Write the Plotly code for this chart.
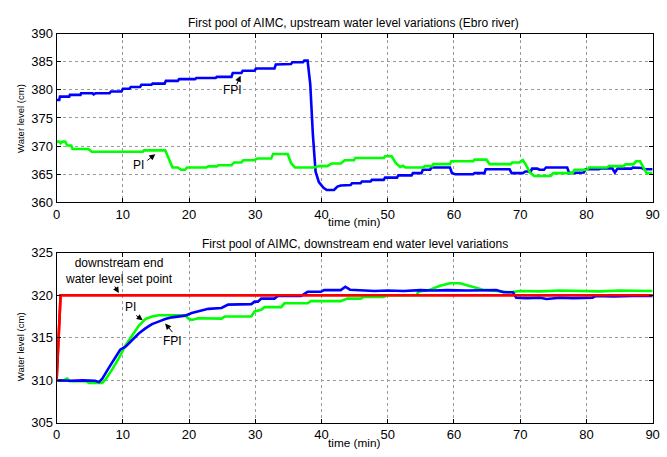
import plotly.graph_objects as go

# ---------------- data ----------------
# Upstream water level, FPI controller (blue)
t_fpi_up = [0, 0.4, 0.5, 1.9, 2.0, 3.6, 3.7, 5.4, 5.6, 5.9, 8.0, 8.2, 9.8, 10.0, 11.0, 11.2, 12.6, 12.8,
            14.3, 14.5, 16.3, 16.5, 18.3, 18.5, 20.9, 21.1, 24.0, 24.2, 26.4, 26.6, 27.9, 28.1, 29.9, 30.1,
            32.9, 33.1, 35.4, 35.6, 37.2, 37.4, 37.9, 38.3, 38.7, 39.1, 39.6, 40.3, 40.8, 41.9, 42.4, 42.9,
            44.4, 44.6, 45.9, 46.1, 47.4, 47.6, 49.4, 49.6, 51.4, 51.6, 53.6, 53.8, 55.1, 55.3, 56.4, 56.6,
            59.4, 59.7, 60.2, 62.9, 63.1, 64.6, 64.8, 68.4, 68.7, 70.4, 70.8, 71.6, 71.8, 72.6, 72.9, 73.6,
            73.9, 77.1, 77.4, 79.6, 79.9, 81.9, 82.2, 83.9, 84.3, 84.7, 86.8, 87.0, 88.4, 88.7, 90.0]
h_fpi_up = [378.2, 378.2, 378.8, 378.8, 379.1, 379.1, 379.4, 379.4, 379.2, 379.4, 379.4, 379.7, 379.7, 380.2,
            380.2, 380.5, 380.5, 380.9, 380.9, 381.1, 381.1, 381.6, 381.6, 381.9, 381.9, 382.1, 382.1, 382.3,
            382.3, 383.0, 383.0, 383.4, 383.4, 383.8, 383.8, 384.5, 384.6, 384.9, 384.9, 385.2, 385.2, 381.0,
            372.0, 365.5, 363.6, 362.6, 362.2, 362.2, 362.8, 363.0, 363.1, 363.4, 363.4, 363.7, 363.7, 364.0,
            364.0, 364.4, 364.4, 364.8, 364.8, 365.2, 365.2, 365.8, 365.8, 366.2, 366.2, 365.2, 365.0, 365.0,
            365.2, 365.2, 365.9, 365.9, 365.2, 365.2, 365.5, 365.5, 366.0, 366.0, 365.8, 365.8, 366.2, 366.2,
            365.2, 365.3, 365.9, 365.9, 366.05, 366.05, 365.3, 366.0, 366.0, 366.2, 366.1, 365.9, 365.9]

# Upstream water level, PI controller (green)
t_pi_up = [0, 0.4, 0.6, 0.9, 1.3, 1.6, 2.2, 2.4, 4.8, 5.3, 13.0, 13.2, 16.4, 16.9, 17.5, 18.3, 18.8, 19.4,
           19.7, 22.6, 22.9, 24.2, 24.4, 26.4, 26.8, 27.9, 28.2, 29.9, 30.3, 32.4, 32.7, 34.9, 35.4, 36.0,
           38.9, 39.6, 40.9, 41.5, 42.9, 43.5, 44.9, 45.1, 49.4, 49.6, 50.6, 51.2, 51.9, 52.3, 52.7, 55.4,
           55.6, 56.7, 56.9, 59.4, 59.6, 62.9, 63.1, 64.9, 65.4, 68.6, 68.8, 69.9, 70.4, 70.8, 71.5, 72.1,
           74.6, 75.0, 77.9, 78.2, 80.1, 80.4, 83.1, 83.4, 85.6, 85.9, 87.1, 87.5, 88.1, 88.6, 89.1, 90.0]
h_pi_up = [370.8, 370.8, 370.5, 370.8, 370.8, 370.1, 370.1, 369.5, 369.5, 369.0, 369.0, 369.25, 369.25, 368.0,
           366.2, 366.2, 365.8, 365.8, 366.2, 366.2, 366.4, 366.4, 366.6, 366.6, 367.1, 367.1, 367.5, 367.5,
           367.8, 367.8, 368.6, 368.6, 367.0, 366.2, 366.2, 366.45, 366.45, 366.9, 366.9, 367.5, 367.5, 367.9,
           367.9, 368.2, 368.2, 367.0, 366.3, 366.5, 366.2, 366.2, 366.45, 366.45, 366.8, 366.8, 367.3, 367.3,
           367.6, 367.6, 366.8, 366.8, 367.1, 367.1, 367.5, 366.8, 365.3, 364.7, 364.7, 365.2, 365.2, 365.8,
           365.8, 366.2, 366.2, 366.45, 366.45, 366.75, 366.75, 367.3, 367.3, 366.2, 365.2, 365.2]

# Downstream end water level set point (red)
t_set = [0, 0.6, 90.0]
h_set = [310.0, 320.0, 320.0]

# Downstream end water level, FPI controller (blue)
t_fpi_dn = [0, 2.0, 4.0, 5.8, 6.4, 6.9, 7.9, 8.9, 9.6, 10.4, 11.4, 12.4, 13.4, 14.4, 15.4, 16.4, 17.4, 18.4,
            19.4, 20.4, 21.4, 22.9, 24.9, 25.9, 29.4, 29.9, 30.4, 30.9, 32.9, 33.4, 36.9, 37.9, 39.9, 40.4,
            42.9, 43.6, 44.3, 45.9, 48.0, 50.0, 52.4, 54.9, 57.0, 59.0, 62.0, 66.4, 67.5, 68.9, 69.4, 71.0,
            73.0, 74.0, 76.0, 78.0, 80.9, 81.4, 84.0, 87.0, 90.0]
h_fpi_dn = [310.0, 309.95, 310.0, 309.95, 309.8, 310.2, 311.5, 312.8, 313.6, 313.95, 314.7, 315.5, 316.1,
            316.6, 316.9, 317.2, 317.4, 317.5, 317.6, 317.9, 318.1, 318.4, 318.5, 318.9, 318.95, 319.25, 319.25,
            319.6, 319.6, 319.9, 319.9, 320.4, 320.4, 320.6, 320.6, 321.0, 320.65, 320.6, 320.5, 320.55, 320.5,
            320.6, 320.55, 320.6, 320.55, 320.6, 320.35, 320.35, 319.7, 319.65, 319.7, 319.55, 319.7, 319.65,
            319.7, 319.9, 319.85, 319.9, 319.9]

# Downstream end water level, PI controller (green)
t_pi_dn = [0, 1.0, 1.6, 2.0, 4.4, 4.9, 6.9, 7.4, 8.4, 9.4, 10.4, 11.4, 12.4, 13.4, 14.4, 15.4, 19.4, 20.0,
           20.4, 21.4, 24.9, 25.4, 29.4, 29.9, 30.9, 31.4, 33.9, 34.4, 37.9, 38.4, 42.9, 43.9, 45.9, 46.4,
           49.4, 49.9, 54.4, 54.6, 56.4, 57.9, 59.4, 60.9, 62.9, 64.4, 66.4, 68.4, 70.0, 73.0, 76.0, 79.0,
           82.0, 85.0, 88.0, 90.0]
h_pi_dn = [310.0, 310.0, 310.2, 309.9, 309.9, 309.7, 309.7, 310.1, 311.3, 312.6, 314.1, 315.3, 316.4, 317.2,
           317.5, 317.65, 317.65, 317.2, 317.1, 317.3, 317.25, 317.5, 317.5, 318.1, 318.3, 318.6, 318.6, 319.05,
           319.05, 319.3, 319.3, 319.6, 319.6, 319.8, 319.8, 320.0, 320.0, 320.4, 320.65, 321.1, 321.4, 321.4,
           321.0, 320.65, 320.5, 320.35, 320.5, 320.45, 320.55, 320.5, 320.45, 320.55, 320.5, 320.5]

x_ticks = [0, 10, 20, 30, 40, 50, 60, 70, 80, 90]
y_ticks_up = [360, 365, 370, 375, 380, 385, 390]
y_ticks_dn = [305, 310, 315, 320, 325]

title_up = "First pool of AIMC, upstream water level variations (Ebro river)"
title_dn = "First pool of AIMC, downstream end water level variations"
x_label = "time (min)"
y_label = "Water level (cm)"

# ---------------- figure ----------------
W, H = 667, 457
FONT = "Liberation Sans, Arial, sans-serif"
BLUE, GREEN, RED = "#0000ff", "#00ff00", "#ff0000"

fig = go.Figure()
fig.add_trace(go.Scatter(x=t_fpi_up, y=h_fpi_up, mode="lines", line=dict(color=BLUE, width=2.6),
                         xaxis="x", yaxis="y", showlegend=False))
fig.add_trace(go.Scatter(x=t_pi_up, y=h_pi_up, mode="lines", line=dict(color=GREEN, width=2.6),
                         xaxis="x", yaxis="y", showlegend=False))
fig.add_trace(go.Scatter(x=t_set, y=h_set, mode="lines", line=dict(color=RED, width=2.6),
                         xaxis="x2", yaxis="y2", showlegend=False))
fig.add_trace(go.Scatter(x=t_pi_dn, y=h_pi_dn, mode="lines", line=dict(color=GREEN, width=2.6),
                         xaxis="x2", yaxis="y2", showlegend=False))
fig.add_trace(go.Scatter(x=t_fpi_dn, y=h_fpi_dn, mode="lines", line=dict(color=BLUE, width=2.6),
                         xaxis="x2", yaxis="y2", showlegend=False))
fig.add_trace(go.Scatter(x=t_set, y=h_set, mode="lines", line=dict(color=RED, width=2.6),
                         xaxis="x2", yaxis="y2", showlegend=False))

x_dom = [53.5 / W, 659.5 / W]
common_x = dict(range=[0, 90], tickvals=x_ticks, showgrid=True, gridcolor="#9a9a9a", griddash="dot",
                gridwidth=1, showline=True, linecolor="#000000", linewidth=1, mirror="ticks",
                ticks="inside", ticklen=4, tickcolor="#000000", zeroline=False,
                tickfont=dict(family=FONT, size=13, color="#000000"))
common_y = dict(showgrid=True, gridcolor="#9a9a9a", griddash="dot", gridwidth=1, showline=True,
                linecolor="#000000", linewidth=1, mirror="ticks", ticks="inside", ticklen=4,
                tickcolor="#000000", zeroline=False, tickfont=dict(family=FONT, size=13, color="#000000"))

fig.update_layout(
    width=W, height=H, margin=dict(l=0, r=0, t=0, b=0),
    paper_bgcolor="white", plot_bgcolor="white", showlegend=False,
    xaxis=dict(domain=x_dom, anchor="y", **common_x),
    yaxis=dict(domain=[1 - 202 / H, 1 - 27.5 / H], anchor="x", range=[360, 390], tickvals=y_ticks_up, **common_y),
    xaxis2=dict(domain=x_dom, anchor="y2", **common_x),
    yaxis2=dict(domain=[1 - 430 / H, 1 - 254 / H], anchor="x2", range=[305, 325], tickvals=y_ticks_dn, **common_y),
)

def ptext(txt, px, py, size, angle=0):
    fig.add_annotation(text=txt, xref="paper", yref="paper", x=px / W, y=1 - py / H,
                       xanchor="center", yanchor="middle", showarrow=False, textangle=angle,
                       font=dict(family=FONT, size=size, color="#000000"))

ptext(title_up, 355, 16.7, 12)
ptext(title_dn, 357, 245, 12)
ptext(x_label, 356, 222, 11.8)
ptext(x_label, 356, 451, 11.8)
ptext(y_label, 17, 115, 9.5, -90)
ptext(y_label, 17, 351, 9.5, -90)

def dtext(txt, x, y, xr, yr):
    fig.add_annotation(text=txt, xref=xr, yref=yr, x=x, y=y, xanchor="center", yanchor="middle",
                       showarrow=False, align="center", font=dict(family=FONT, size=12, color="#000000"))

def arrow(x, y, ax, ay, xr, yr):
    fig.add_annotation(text="", xref=xr, yref=yr, x=x, y=y, ax=ax, ay=ay, showarrow=True,
                       arrowhead=2, arrowsize=1.2, arrowwidth=1, arrowcolor="#000000", standoff=0,
                       startstandoff=0)

dtext("FPI", 26.6, 379.9, "x", "y")
arrow(27.78, 382.5, -4.5, 10, "x", "y")
dtext("PI", 12.3, 366.7, "x", "y")
arrow(14.9, 368.57, -9.5, 7.5, "x", "y")

dtext("downstream end<br>water level set point", 9.35, 322.85, "x2", "y2")
arrow(9.4, 320.26, -5, -8, "x2", "y2")
dtext("PI", 11.14, 318.64, "x2", "y2")
arrow(13.0, 317.05, -8, -6, "x2", "y2")
dtext("FPI", 17.5, 314.66, "x2", "y2")
arrow(16.39, 316.67, 8.5, 10, "x2", "y2")

fig.write_html("out.html", config={"displayModeBar": False},
               post_script="document.body.style.margin='0';document.body.style.padding='0';")
